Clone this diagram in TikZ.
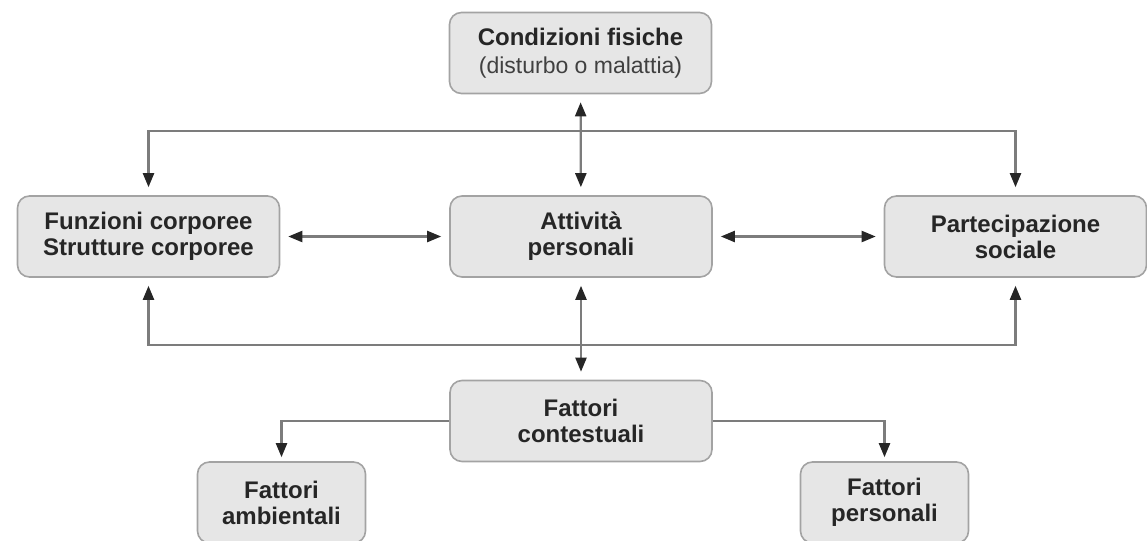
\documentclass[tikz,border=0pt]{standalone}
\usepackage{fontspec}
\setmainfont{Liberation Sans}
\usetikzlibrary{arrows.meta}

\definecolor{boxfill}{HTML}{E6E6E6}
\definecolor{boxline}{HTML}{A3A3A3}
\definecolor{linkgray}{HTML}{7C7C7C}

\begin{document}
\begin{tikzpicture}[x=0.5pt,y=-0.5pt,>={Triangle[length=7pt,width=5.5pt,color=black!85]},box/.style={draw=boxline, fill=boxfill, rounded corners=6pt, line width=0.8pt, minimum width=131pt, minimum height=40.5pt, align=center, inner sep=0pt, font=\fontsize{12}{13}\selectfont\bfseries, text=black!85},small/.style={box, minimum width=84pt},link/.style={draw=linkgray, line width=1.1pt},both/.style={link, <->, shorten <=4pt, shorten >=4pt}]
\useasboundingbox (0,0) rectangle (1147,541);
% boxes
\node[box] (cond) at (580.5,53) {Condizioni fisiche\\[1pt]{\mdseries\fontsize{11.5}{13}\selectfont\color{black!75}(disturbo o malattia)}};
\node[box] (funz) at (148.5,236.5) {Funzioni corporee\\Strutture corporee};
\node[box] (att) at (581,236.5) {Attività\\personali};
\node[box] (part) at (1015.5,236.5) {Partecipazione\\sociale};
\node[box] (cont) at (581,421) {Fattori\\contestuali};
\node[small] (amb) at (281.5,502.5) {Fattori\\ambientali};
\node[small] (pers) at (884.5,502.5) {Fattori\\personali};
\coordinate (top) at (581,131); \coordinate (bot) at (581,345);
% connectors
\draw[link,<->,shorten <=4pt,shorten >=4pt] (funz.north) |- (top) -| (part.north);
\draw[link,<->,shorten <=4pt,shorten >=4pt] (funz.south) |- (bot) -| (part.south);
\draw[both] (cond) -- (att); \draw[both] (att) -- (cont);
\draw[both] (funz) -- (att); \draw[both] (att) -- (part);
\draw[link,->,shorten >=2pt] (cont.west) -| (amb.north);
\draw[link,->,shorten >=2pt] (cont.east) -| (pers.north);
\end{tikzpicture}
\end{document}
